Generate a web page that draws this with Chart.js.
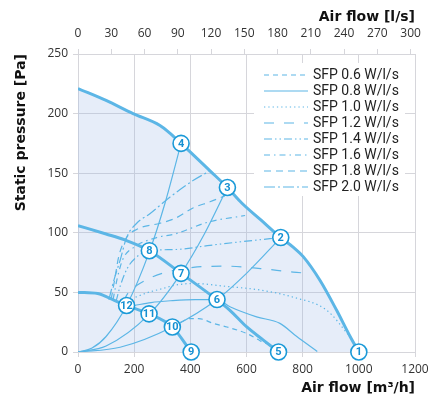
<!DOCTYPE html>
<html>
<head>
<meta charset="utf-8">
<script src="https://cdn.jsdelivr.net/npm/chart.js@4.4.1/dist/chart.umd.min.js"></script>
<style>
html, body { margin: 0; padding: 0; background: #fff; }
#wrap { width: 446px; height: 403px; }
</style>
</head>
<body>
<div id="wrap"><canvas id="fanChart"></canvas></div>
<script>
// fan curves [m3/h, Pa]
const curveMax = [[0,221],[100,211],[196,200],[292,190],[330,183],[367,175],[470,152],[532,138],[583,125],[650,111],[722,96],[766,88],[802,80],[862,60],[921,35],[969,13],[1000,0]];
const curveMid = [[0,106],[100,99],[167,94],[254,85],[367,66],[494,44],[541,35],[601,21],[660,10],[714,0]];
const curveLow = [[0,50],[70,49],[90,47.5],[114,45],[173,39],[253,32],[336,21],[403,0]];

// system curves (through 12-8-4, 11-7-3, 10-6-2)
const system1 = [[0,0],[50,3.3],[100,13],[173,39],[254,84],[310,125],[367,175]];
const system2 = [[0,0],[100,5],[253,31.5],[367,66],[450,99],[532,138]];
const system3 = [[0,0],[150,4],[336,21],[495,44],[600,66],[722,96]];

// SFP lines
const sfpLabels = ['SFP 0.6 W/l/s','SFP 0.8 W/l/s','SFP 1.0 W/l/s','SFP 1.2 W/l/s','SFP 1.4 W/l/s','SFP 1.6 W/l/s','SFP 1.8 W/l/s','SFP 2.0 W/l/s'];
const sfp06 = [[365,25],[399,28],[430,28],[482,24],[530,21],[601,15.5],[648,9.5],[696,4],[712,0.5]];
const sfp08 = [[200,39],[260,41.5],[330,43],[417,44],[494,44],[541,38],[636,29.5],[719,24],[779,13],[852,0.5]];
const sfp10 = [[205,46],[250,50],[298,53],[345,56],[410,57.5],[530,55],[648,52],[766,46],[886,35],[957,16],[992,5]];
const sfp12 = [[160,42],[180,50],[210,56],[256,62],[300,66],[410,71],[530,72],[650,70],[766,67],[826,66]];
const sfp14 = [[135,42],[150,55],[175,70],[210,80],[254,85],[350,86],[470,89.5],[600,93],[722,96]];
const sfp16 = [[125,44],[140,62],[160,78],[200,88],[280,96],[345,99],[464,109],[595,114.5]];
const sfp18 = [[118,44],[130,60],[145,80],[170,95],[210,103],[292,108],[345,112],[411,121],[470,126],[523,131]];
const sfp20 = [[110,44],[130,62],[150,77],[173,96],[209,108],[256,116],[328,130],[411,144],[470,152]];

// numbered operating points
const pointIds = [1,2,3,4,5,6,7,8,9,10,11,12];
const pointFlow = [1000,722,532,367,714,495,367,254,403,336,253,173];
const pointPressure = [0,96,138,175,0,44,66,85,0,21,32,39];

const blue = '#5cb6e6';
const toXY = arr => arr.map(p => ({x: p[0], y: p[1]}));

const sfpData = [sfp06, sfp08, sfp10, sfp12, sfp14, sfp16, sfp18, sfp20];
const sfpDash = [[5,4],[],[1.3,3],[10,10],[8,3,1.5,3,1.5,3],[6,4,1.5,4],[7,5],[11,3,2,3]];

let datasets = [];

datasets.push({
    label: 'points',
    data: pointFlow.map((f, i) => ({x: f, y: pointPressure[i]})),
    showLine: false,
    pointRadius: 8,
    pointHoverRadius: 8,
    pointBackgroundColor: '#fff',
    pointBorderColor: '#1b9ad8',
    pointBorderWidth: 1.6,
    clip: false,
    order: 0
});

[curveMax, curveMid, curveLow].forEach((c, i) => {
    datasets.push({
        label: 'fan' + i,
        data: toXY(c),
        borderColor: blue,
        borderWidth: 3,
        pointRadius: 0,
        cubicInterpolationMode: 'monotone',
        fill: i === 0 ? 'origin' : false,
        backgroundColor: 'rgba(150,180,228,0.24)',
        order: 1
    });
});

[system1, system2, system3].forEach((c, i) => {
    datasets.push({
        label: 'system' + i,
        data: toXY(c),
        borderColor: blue,
        borderWidth: 1.2,
        pointRadius: 0,
        cubicInterpolationMode: 'monotone',
        fill: false,
        order: 2
    });
});

sfpData.forEach((c, i) => {
    datasets.push({
        label: sfpLabels[i],
        sfp: true,
        data: toXY(c),
        borderColor: blue,
        borderWidth: 1.2,
        borderDash: sfpDash[i],
        pointRadius: 0,
        cubicInterpolationMode: 'monotone',
        fill: false,
        order: 2
    });
});

// white box legend inside the plot
const sfpLegend = {
    id: 'sfpLegend',
    afterDraw(chart) {
        const ctx = chart.ctx;
        const a = chart.chartArea;
        const bx = a.right - 161, by = a.top + 9;
        ctx.save();
        ctx.fillStyle = '#fff';
        ctx.fillRect(bx, by, 151, 133);
        ctx.font = '14px Roboto';
        ctx.textBaseline = 'middle';
        let row = 0;
        chart.data.datasets.forEach(ds => {
            if (!ds.sfp) return;
            const y = by + 12 + row * 16;
            ctx.strokeStyle = ds.borderColor;
            ctx.lineWidth = 1.2;
            ctx.setLineDash(ds.borderDash);
            ctx.beginPath();
            ctx.moveTo(bx + 10, y);
            ctx.lineTo(bx + 54, y);
            ctx.stroke();
            ctx.setLineDash([]);
            ctx.fillStyle = '#222';
            ctx.fillText(ds.label, bx + 59, y + 0.5);
            row++;
        });
        ctx.restore();
    }
};

// numbers inside the markers
const pointNumbers = {
    id: 'pointNumbers',
    afterDatasetsDraw(chart) {
        const ctx = chart.ctx;
        const meta = chart.getDatasetMeta(0);
        ctx.save();
        ctx.font = 'bold 11px Roboto';
        ctx.fillStyle = '#1590d2';
        ctx.textAlign = 'center';
        ctx.textBaseline = 'middle';
        meta.data.forEach((el, i) => {
            ctx.fillText(String(pointIds[i]), el.x, el.y + 0.5);
        });
        ctx.restore();
    }
};

const tickFont = {family: 'Open Sans', size: 12};
const titleFont = {family: 'DejaVu Sans', size: 14, weight: 'bold'};
const gridColor = '#d6d6db';
const plainNum = v => String(v);

let fanChart = new Chart(document.getElementById('fanChart').getContext('2d'), {
    type: 'line',
    data: { datasets: datasets },
    plugins: [sfpLegend, pointNumbers],
    options: {
        responsive: true,
        maintainAspectRatio: false,
        animation: false,
        events: [],
        layout: { padding: {left: 0, right: 31, top: 0, bottom: 0} },
        plugins: {
            legend: { display: false },
            tooltip: { enabled: false },
            filler: { drawTime: 'beforeDatasetsDraw' }
        },
        scales: {
            x: {
                type: 'linear',
                position: 'bottom',
                min: 0, max: 1200,
                ticks: { stepSize: 200, color: '#333', font: tickFont, padding: 5, maxRotation: 0, callback: plainNum },
                grid: { color: gridColor, tickLength: 5 },
                border: { color: gridColor },
                title: { display: true, text: 'Air flow [m³/h]', align: 'end', color: '#111', font: titleFont, padding: {top: 0, bottom: 6} },
                afterFit: s => { s.height = 51; }
            },
            x2: {
                type: 'linear',
                position: 'top',
                min: 0, max: 304,
                ticks: { stepSize: 30, includeBounds: false, color: '#333', font: tickFont, padding: 8, maxRotation: 0, callback: plainNum },
                grid: { drawOnChartArea: false, color: gridColor, tickLength: 5 },
                border: { color: gridColor },
                title: { display: true, text: 'Air flow [l/s]', align: 'end', color: '#111', font: titleFont, padding: {top: 9, bottom: 0} },
                afterFit: s => { s.height = 54; }
            },
            y: {
                type: 'linear',
                min: 0, max: 250,
                ticks: { stepSize: 50, color: '#333', font: tickFont, padding: 5, callback: plainNum },
                grid: { color: gridColor, tickLength: 5 },
                border: { color: gridColor },
                title: { display: true, text: 'Static pressure [Pa]', align: 'end', color: '#111', font: titleFont, padding: {top: 13, bottom: 0} },
                afterFit: s => { s.width = 78; }
            }
        }
    }
});
</script>
</body>
</html>
